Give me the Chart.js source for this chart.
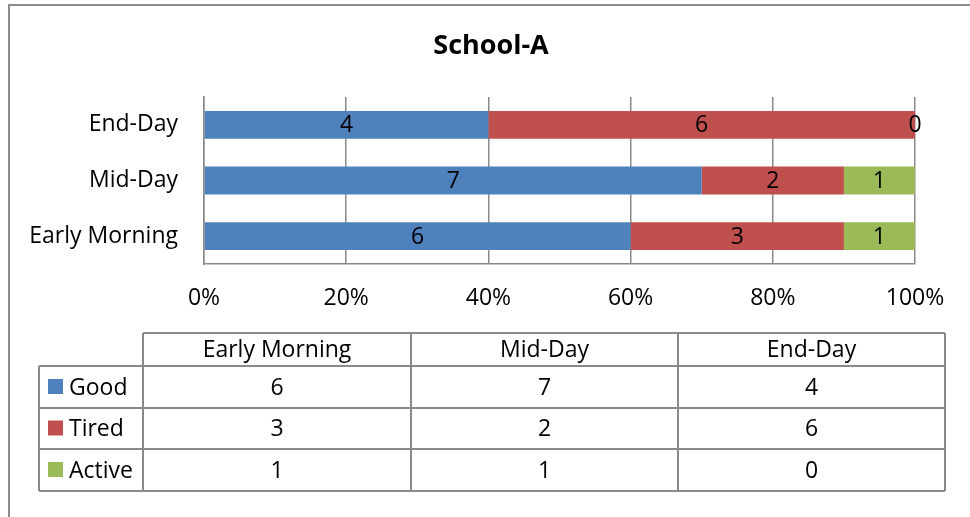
<!DOCTYPE html>
<html>
<head>
<meta charset="utf-8">
<script src="https://cdn.jsdelivr.net/npm/chart.js@4.4.0/dist/chart.umd.min.js"></script>
<style>
    html, body { margin: 0; padding: 0; background: #fff; }
</style>
</head>
<body>
<canvas id="schoolA" width="970" height="517"></canvas>
<script>
const chartTitle = 'School-A';
const categories = ['Early Morning', 'Mid-Day', 'End-Day'];
const seriesNames = ['Good', 'Tired', 'Active'];
const good = [6, 7, 4];
const tired = [3, 2, 6];
const active = [1, 1, 0];
const xTicks = [0, 20, 40, 60, 80, 100];

const colors = ['#4F81BD', '#C0504D', '#9BBB59'];
const series = [good, tired, active];
const FONT = '"Open Sans", "Liberation Sans", sans-serif';
const gridGray = '#8a8a8a';

// 100% stacked: share of each category total
let totals = categories.map((c, i) => good[i] + tired[i] + active[i]);
let toPct = arr => arr.map((v, i) => v / totals[i] * 100);

// labels in the middle of each segment
const segmentLabels = {
    id: 'segmentLabels',
    afterDatasetsDraw(chart) {
        const ctx = chart.ctx;
        ctx.save();
        ctx.font = '23px ' + FONT;
        ctx.fillStyle = '#000';
        ctx.textAlign = 'center';
        ctx.textBaseline = 'middle';
        chart.data.datasets.forEach((ds, d) => {
            chart.getDatasetMeta(d).data.forEach((bar, i) => {
                ctx.fillText(String(series[d][i]), (bar.x + bar.base) / 2, bar.y + 1);
            });
        });
        ctx.restore();
    }
};

// title, outer frame and data table below the plot
const frameAndTable = {
    id: 'frameAndTable',
    afterDraw(chart) {
        const ctx = chart.ctx;
        ctx.save();
        ctx.font = 'bold 27px ' + FONT;
        ctx.fillStyle = '#000';
        ctx.textAlign = 'center';
        ctx.textBaseline = 'middle';
        ctx.fillText(chartTitle, 491, 46);

        ctx.strokeStyle = '#8c8c8c';
        ctx.lineWidth = 2;
        ctx.beginPath();
        ctx.moveTo(9, 517);
        ctx.lineTo(9, 5);
        ctx.lineTo(970, 5);
        ctx.stroke();

        let xs = [39, 143, 411, 678, 945];
        let ys = [333, 366, 408, 449, 491];
        ctx.strokeStyle = gridGray;
        ctx.lineWidth = 2;
        ctx.beginPath();
        // header row
        ctx.moveTo(xs[1], ys[0]);
        ctx.lineTo(xs[4], ys[0]);
        for (let c = 1; c < xs.length; c++) {
            ctx.moveTo(xs[c], ys[0]);
            ctx.lineTo(xs[c], ys[1]);
        }
        // body rows
        for (let r = 1; r < ys.length; r++) {
            ctx.moveTo(xs[0], ys[r]);
            ctx.lineTo(xs[4], ys[r]);
        }
        for (let c = 0; c < xs.length; c++) {
            ctx.moveTo(xs[c], ys[1]);
            ctx.lineTo(xs[c], ys[4]);
        }
        ctx.stroke();

        ctx.font = '23px ' + FONT;
        ctx.fillStyle = '#000';
        ctx.textBaseline = 'middle';
        ctx.textAlign = 'center';
        categories.forEach((cat, c) => {
            ctx.fillText(cat, (xs[c + 1] + xs[c + 2]) / 2, (ys[0] + ys[1]) / 2 + 1);
        });
        seriesNames.forEach((name, r) => {
            let cy = (ys[r + 1] + ys[r + 2]) / 2;
            ctx.fillStyle = colors[r];
            ctx.fillRect(48, cy - 8, 15, 15);
            ctx.fillStyle = '#000';
            ctx.textAlign = 'left';
            ctx.fillText(name, 69, cy + 1);
            ctx.textAlign = 'center';
            series[r].forEach((v, c) => {
                ctx.fillText(String(v), (xs[c + 1] + xs[c + 2]) / 2, cy + 1);
            });
        });
        ctx.restore();
    }
};

new Chart(document.getElementById('schoolA').getContext('2d'), {
    type: 'bar',
    data: {
        labels: categories,
        datasets: seriesNames.map((name, d) => ({
            label: name,
            data: toPct(series[d]),
            backgroundColor: colors[d],
            borderWidth: 0,
            barPercentage: 0.5,
            categoryPercentage: 1
        }))
    },
    options: {
        indexAxis: 'y',
        responsive: false,
        animation: false,
        layout: {
            padding: { left: 0, right: 55, top: 97, bottom: 0 }
        },
        plugins: {
            legend: { display: false },
            tooltip: { enabled: false },
            title: { display: false }
        },
        scales: {
            x: {
                stacked: true,
                min: 0,
                max: 100,
                afterBuildTicks: scale => {
                    scale.ticks = xTicks.map(v => ({ value: v }));
                },
                afterFit: scale => {
                    scale.height = 253;
                },
                grid: { color: gridGray, lineWidth: 1.5, drawTicks: false },
                border: { color: gridGray, width: 1.5 },
                ticks: {
                    color: '#000',
                    padding: 21,
                    maxRotation: 0,
                    font: { family: FONT, size: 23 },
                    callback: v => v + '%'
                }
            },
            y: {
                stacked: true,
                reverse: true,
                afterFit: scale => {
                    scale.width = 204;
                },
                grid: { display: false, drawTicks: false },
                border: { color: gridGray, width: 1.5 },
                ticks: {
                    color: '#000',
                    padding: 26,
                    font: { family: FONT, size: 23 }
                }
            }
        }
    },
    plugins: [segmentLabels, frameAndTable]
});
</script>
</body>
</html>
